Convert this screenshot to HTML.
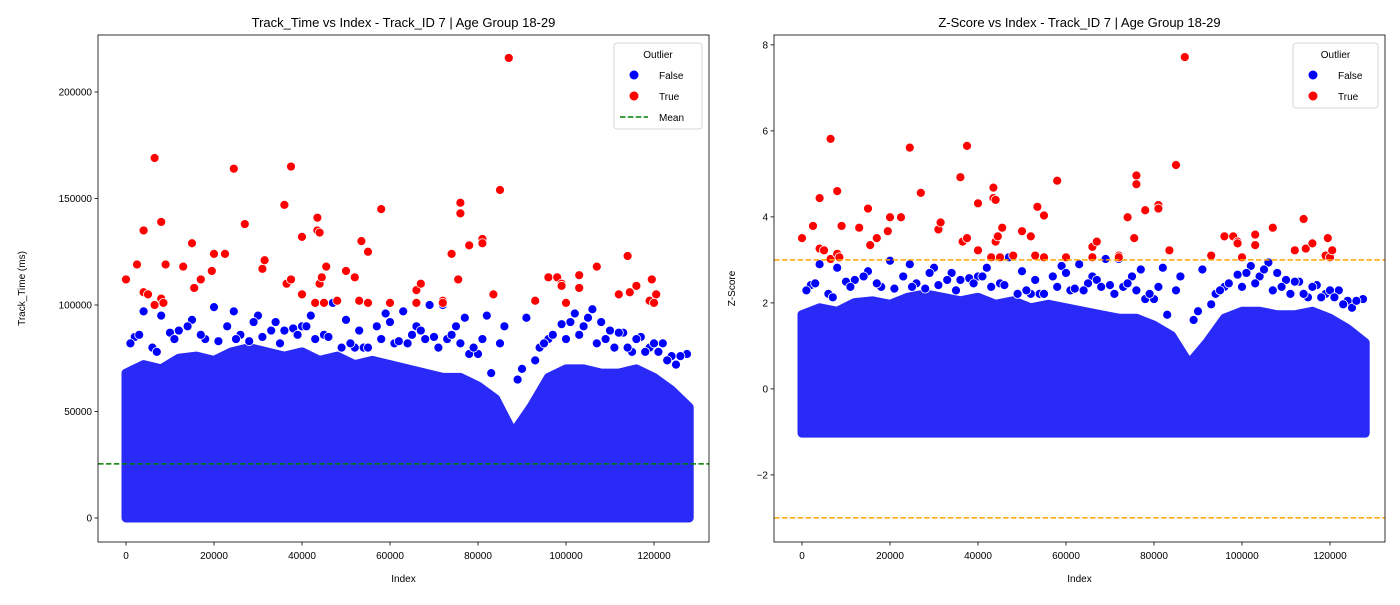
<!DOCTYPE html>
<html><head><meta charset="utf-8"><style>
body{margin:0;background:#fff;}
svg text{font-family:"Liberation Sans","DejaVu Sans",sans-serif;fill:#000;}
</style></head><body>
<svg id="chart" width="1400" height="600" xmlns="http://www.w3.org/2000/svg"></svg>
<script>
// ---- data ----
const envIdx = [0,4000,8000,12000,16000,20000,24000,28000,32000,36000,40000,44000,48000,52000,56000,60000,64000,68000,72000,76000,80000,84000,88000,92000,96000,100000,104000,108000,112000,116000,120000,124000,128000];
const envTop = [68000,72000,70000,75000,76000,74000,78000,80000,78000,76000,78000,74000,76000,72000,74000,72000,70000,68000,66000,66000,62000,56000,40000,52000,66000,70000,70000,68000,68000,70000,66000,60000,52000];
const blueIdx = [4000,8000,12000,15000,20000,24500,30000,34000,38000,42000,47000,50000,57000,59000,63000,66000,69000,72000,77000,82000,86000,91000,99000,102000,106000,110000,117000,122000,127500,2000,10000,18000,26000,36000,45000,54000,61000,70000,75000,80000,94000,104000,113000,119000,124000,6000,28000,40000,52000,65000,73000,96000,108000,115000,
  1000,3000,7000,11000,14000,17000,21000,23000,25000,29000,31000,33000,35000,39000,41000,43000,46000,49000,51000,53000,55000,58000,60000,62000,64000,67000,68000,71000,74000,76000,78000,79000,81000,83000,85000,89000,90000,93000,95000,97000,100000,101000,103000,105000,107000,109000,111000,112000,114000,116000,118000,120000,121000,123000,125000,126000];
const blueVal = [97000,95000,88000,93000,99000,97000,95000,92000,89000,95000,101000,93000,90000,96000,97000,90000,100000,100000,94000,95000,90000,94000,91000,96000,98000,88000,85000,82000,77000,85000,87000,84000,86000,88000,86000,80000,82000,85000,90000,77000,80000,90000,87000,80000,76000,80000,83000,90000,80000,86000,84000,84000,92000,78000,
  82000,86000,78000,84000,90000,86000,83000,90000,84000,92000,85000,88000,82000,86000,90000,84000,85000,80000,82000,88000,80000,84000,92000,83000,82000,88000,84000,80000,86000,82000,77000,80000,84000,68000,82000,65000,70000,74000,82000,86000,84000,92000,86000,94000,82000,84000,80000,87000,80000,84000,78000,82000,78000,74000,72000,76000];
const redIdx = [0,2500,4000,4000,5000,6500,6500,8000,8000,8500,9000,13000,15000,15500,17000,19500,20000,22500,24500,27000,31000,31500,36000,36500,37500,37500,40000,40000,43000,43500,43500,44000,44000,44500,45000,45500,48000,50000,52000,53000,53500,55000,55000,58000,60000,66000,66000,67000,72000,72000,74000,75500,76000,76000,78000,81000,81000,83500,85000,87000,93000,96000,98000,99000,99000,100000,103000,103000,107000,112000,114000,114500,116000,119000,119500,120000,120500];
const redVal = [112000,119000,135000,106000,105000,169000,100000,103000,139000,101000,119000,118000,129000,108000,112000,116000,124000,124000,164000,138000,117000,121000,147000,110000,165000,112000,132000,105000,101000,141000,135000,134000,110000,113000,101000,118000,102000,116000,113000,102000,130000,125000,101000,145000,101000,107000,101000,110000,102000,101000,124000,112000,148000,143000,128000,131000,129000,105000,154000,216000,102000,113000,113000,110000,109000,101000,108000,114000,118000,105000,123000,106000,109000,102000,112000,101000,105000];
const meanVal = 25400, stdVal = 24700;
const xTicks = [0,20000,40000,60000,80000,100000,120000];
const yTicksL = [0,50000,100000,150000,200000];
const yTicksR = [-2,0,2,4,6,8];

const NS="http://www.w3.org/2000/svg";
const svg=document.getElementById('chart');
function mk(tag,attrs,parent){const e=document.createElementNS(NS,tag);for(const k in attrs)e.setAttribute(k,attrs[k]);(parent||svg).appendChild(e);return e;}
function txt(s,x,y,size,anchor,parent,rot){const t=mk('text',{x:x,y:y,'font-size':size,'text-anchor':anchor||'middle'},parent);if(rot)t.setAttribute('transform',rot);t.textContent=s;return t;}

function panel(cfg){
  const g=mk('g',{});
  
  
  const L=cfg.left,R=cfg.right,T=35,B=542;
  const X=v=>L+(v-cfg.x0)/(cfg.x1-cfg.x0)*(R-L);
  const Y=v=>B-(v-cfg.y0)/(cfg.y1-cfg.y0)*(B-T);
  const clip=mk('clipPath',{id:'c'+cfg.name},g);mk('rect',{x:L,y:T,width:R-L,height:B-T},clip);
  const plot=mk('g',{'clip-path':'url(#c'+cfg.name+')'},g);
  let pts=[];
  envIdx.forEach((ix,i)=>pts.push(X(ix)+','+Y(cfg.f(envTop[i]))));
  pts.push(X(envIdx[envIdx.length-1])+','+Y(cfg.f(0)));
  pts.push(X(envIdx[0])+','+Y(cfg.f(0)));
  const poly=mk('polygon',{points:pts.join(' '),fill:'#2a2af8',stroke:'#2a2af8','stroke-width':9,'stroke-linejoin':'round'},plot);
  
  
  blueIdx.forEach((ix,i)=>{const c=mk('circle',{cx:X(ix),cy:Y(cfg.f(blueVal[i])),r:4.5,fill:'#0000ff',stroke:'#fff','stroke-width':0.8},plot);
    
    });
  if(cfg.mean){const l=mk('line',{x1:L,x2:R,y1:Y(meanVal),y2:Y(meanVal),stroke:'#008000','stroke-width':1.5,'stroke-dasharray':'5.5,2.4'},plot);
    
    }
  redIdx.forEach((ix,i)=>{const c=mk('circle',{cx:X(ix),cy:Y(cfg.f(redVal[i])),r:4.5,fill:'#ff0000',stroke:'#fff','stroke-width':0.8},plot);
    
    });
  if(cfg.thresh){[3,-3].forEach(v=>{const l=mk('line',{x1:L,x2:R,y1:Y(v),y2:Y(v),stroke:'#ffa500','stroke-width':1.5,'stroke-dasharray':'5.5,2.4'},plot);
    
    });}
  const fr=mk('rect',{x:L,y:T,width:R-L,height:B-T,fill:'none',stroke:'#000','stroke-width':0.8},g);
  
  
  xTicks.forEach(v=>{mk('line',{x1:X(v),x2:X(v),y1:B,y2:B+3.5,stroke:'#000','stroke-width':0.8},g);
    const t=txt(String(v),X(v),B+17,10,'middle',g);
    
    });
  cfg.yt.forEach(v=>{mk('line',{x1:L-3.5,x2:L,y1:Y(v),y2:Y(v),stroke:'#000','stroke-width':0.8},g);
    const t=txt(v<0?'\u2212'+(-v):String(v),L-6,Y(v)+3.5,10,'end',g);
    
    });
  const ti=txt(cfg.title,(L+R)/2,27,13,'middle',g);
  
  
  const xl=txt('Index',(L+R)/2,582,10,'middle',g);
  
  
  const yl=txt(cfg.ylab,0,0,10,'middle',g,'translate('+cfg.ylx+','+((T+B)/2)+') rotate(-90)');
  
  
  const lg=mk('g',{},g);
  
  
  const lx=cfg.legX, lw=cfg.legW, lh=cfg.mean?86:65;
  mk('rect',{x:lx,y:43,width:lw,height:lh,rx:3,fill:'#fff','fill-opacity':0.8,stroke:'#ccc','stroke-width':0.8},lg);
  txt('Outlier',lx+lw/2,58,10,'middle',lg);
  const e1=mk('circle',{cx:lx+20,cy:75,r:4.5,fill:'#0000ff'},lg);
  
  
  txt('False',lx+45,79,10,'start',lg);
  const e2=mk('circle',{cx:lx+20,cy:96,r:4.5,fill:'#ff0000'},lg);
  
  
  txt('True',lx+45,100,10,'start',lg);
  if(cfg.mean){const m=mk('line',{x1:lx+6,x2:lx+34,y1:117,y2:117,stroke:'#008000','stroke-width':1.5,'stroke-dasharray':'5.5,2.4'},lg);
    
    
    txt('Mean',lx+45,121,10,'start',lg);}
}
panel({name:'track-time-panel',left:98,right:709,x0:-6364,x1:132500,y0:-11268,y1:226760,f:v=>v,yt:yTicksL,
  title:'Track_Time vs Index - Track_ID 7 | Age Group 18-29',ylab:'Track_Time (ms)',ylx:25,mean:true,legX:614,legW:88});
panel({name:'zscore-panel',left:774,right:1385,x0:-6364,x1:132500,y0:-3.56,y1:8.23,f:v=>(v-meanVal)/stdVal,yt:yTicksR,
  title:'Z-Score vs Index - Track_ID 7 | Age Group 18-29',ylab:'Z-Score',ylx:735,thresh:true,legX:1293,legW:85});
</script>
</body></html>
